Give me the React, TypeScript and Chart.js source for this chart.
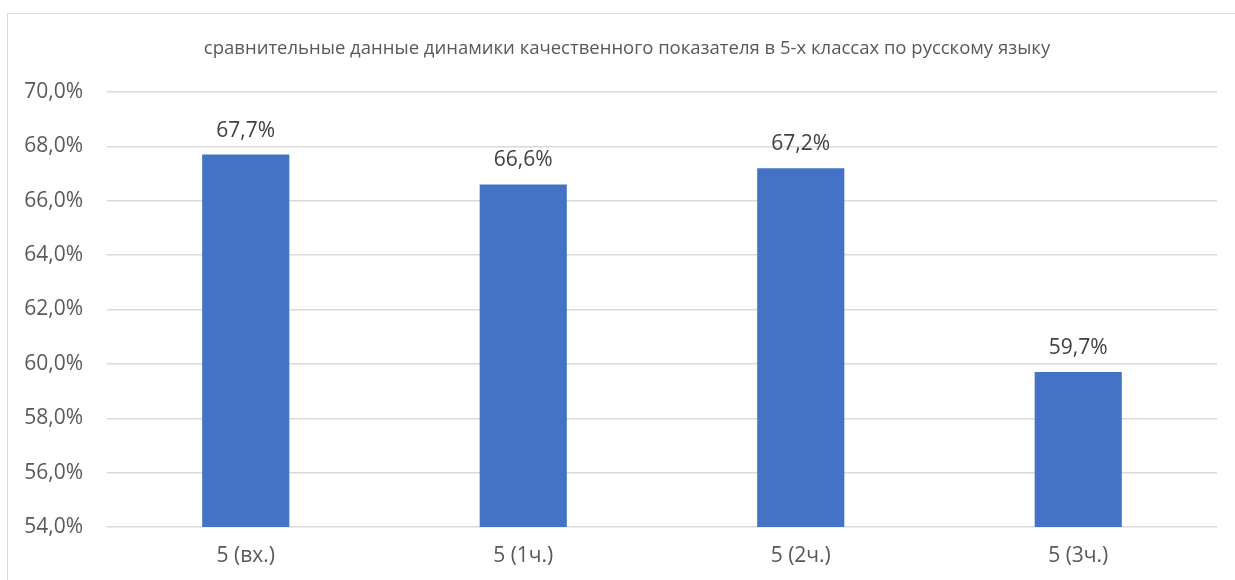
import React, { useEffect, useRef } from "react";
import { Chart, registerables } from "chart.js";

Chart.register(...registerables);

const categories = ["5 (вх.)", "5 (1ч.)", "5 (2ч.)", "5 (3ч.)"];
const values = [67.7, 66.6, 67.2, 59.7];
const titleText = "сравнительные данные динамики качественного показателя в 5-х классах по русскому языку";

const FONT = "'Open Sans', 'DejaVu Sans', sans-serif";
const TEXT = "#595959";

const fmt = (v: number) => v.toFixed(1).replace(".", ",") + "%";

const labelPlugin = {
  id: "barLabels",
  afterDatasetsDraw(chart: any) {
    const ctx = chart.ctx;
    const meta = chart.getDatasetMeta(0);
    ctx.save();
    ctx.font = `21px ${FONT}`;
    ctx.fillStyle = "#404040";
    ctx.textAlign = "center";
    ctx.textBaseline = "middle";
    meta.data.forEach((bar: any, i: number) => {
      ctx.fillText(fmt(values[i]), bar.x, bar.y - 24);
    });
    ctx.font = `18.5px ${FONT}`;
    ctx.fillStyle = TEXT;
    ctx.fillText(titleText, 619, 35);
    ctx.restore();
  },
};

export default function App() {
  const ref = useRef<HTMLCanvasElement>(null);
  useEffect(() => {
    if (!ref.current) return;
    const chart = new Chart(ref.current, {
      type: "bar",
      data: {
        labels: categories,
        datasets: [
          {
            data: values,
            backgroundColor: "#4472C4",
            categoryPercentage: 1,
            barPercentage: 0.314,
          },
        ],
      },
      options: {
        animation: false,
        responsive: false,
        layout: { padding: { left: 0, right: 31, top: 78, bottom: 34 } },
        plugins: {
          legend: { display: false },
          tooltip: { enabled: false },
          title: { display: false },
        },
        scales: {
          x: {
            grid: { display: false, drawTicks: false },
            border: { display: false },
            ticks: { color: TEXT, font: { family: FONT, size: 21 }, padding: 16 },
            afterFit: (s: any) => {
              s.height = 53;
            },
          },
          y: {
            min: 54,
            max: 70,
            grid: { color: "#d9d9d9", lineWidth: 1.5, drawTicks: false },
            border: { display: false },
            ticks: {
              stepSize: 2,
              color: TEXT,
              font: { family: FONT, size: 21 },
              padding: 24,
              callback: (v: any) => fmt(Number(v)),
            },
            afterFit: (s: any) => {
              s.width = 99;
            },
          },
        },
      },
      plugins: [labelPlugin],
    });
    return () => chart.destroy();
  }, []);
  return (
    <div
      style={{
        position: "absolute",
        left: 7,
        top: 13,
        width: 1240,
        height: 600,
        border: "1px solid #d9d9d9",
        background: "#fff",
      }}
    >
      <canvas ref={ref} width={1240} height={600} style={{ display: "block" }} />
    </div>
  );
}
